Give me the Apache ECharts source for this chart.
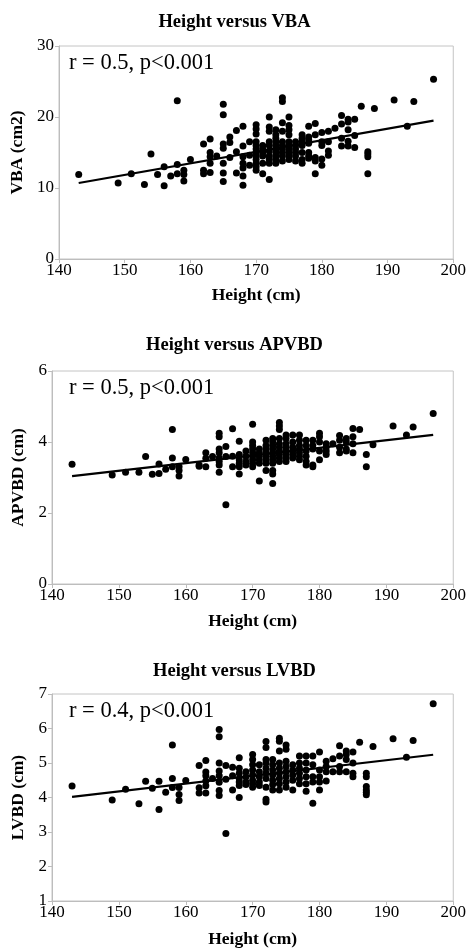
<!DOCTYPE html>
<html>
<head>
<meta charset="utf-8">
<script src="https://cdn.jsdelivr.net/npm/echarts@6/dist/echarts.min.js"></script>
<style>html,body{margin:0;padding:0;background:#fff}#c{width:469px;height:949px}</style>
</head>
<body>
<div id="c"></div>
<script>
// ---- Panel 1: Height versus VBA ----
const vbaHeights = [143,149,151,153,154,155,156,157,158,159,160,162,163,164,165,166,167,168,169,170,171,172,173,174,175,176,177,178,179,180,181,182,183,184,185,186,187,188,191,193,194,197];
const vbaValues = [
 [11.9],[10.7],[12.0],[10.5],[14.8],[11.9],[10.3,13.0],[11.7],[22.3,13.3,12.0],[12.5,11.9,11.0],[14.0],
 [16.2,12.5,12.0],[16.9,15.0,14.4,13.5,12.2],[14.5],[21.8,20.3,16.2,15.6,13.5,12.1,10.9],[17.2,16.4,14.3],
 [18.1,15.1,12.1],[18.7,15.9,14.4,13.5,12.8,11.7,10.4],[16.5,14.6,13.2],
 [18.9,18.3,17.6,16.5,16.0,15.5,15.0,14.5,14.0,13.5,13.0,12.5],[16.0,15.5,15.0,14.5,13.5,12.0],
 [20.0,18.6,18.0,16.5,16.0,15.2,14.5,14.0,13.5,11.2],[18.2,17.5,17.0,16.5,16.0,15.5,15.0,14.5,14.0,13.5],
 [22.7,22.2,19.2,18.0,16.5,16.0,15.5,15.0,14.5,13.8],[20.0,18.8,18.2,17.5,16.5,16.0,15.5,15.0,14.5,14.0],
 [16.5,16.0,15.5,15.0,14.5,13.8],[17.5,17.0,16.5,16.0,15.0,14.0,13.5],[18.7,17.2,16.8,16.3,15.0,14.5,14.2],
 [19.1,17.5,14.3,13.8,12.0],[17.8,16.5,16.0,14.1,13.2],[18.0,16.5,15.2,14.6],[18.4],[20.2,19.0,17.0,15.9],
 [19.7,19.3,18.2,16.6,15.9],[19.7,17.4,15.7],[21.5],[15.1,14.8,14.4,12.0],[21.2],[22.4],[18.7],[22.2],[25.3]
];
const vbaTrendX = [143,197];
const vbaTrendY = [10.7,19.5];
const vbaTicks = {min:0,max:30,interval:10};

// ---- Panel 2: Height versus APVBD ----
const apHeights = [143,149,151,153,154,155,156,157,158,159,160,162,163,164,165,166,167,168,169,170,171,172,173,174,175,176,177,178,179,180,181,182,183,184,185,186,187,188,191,193,194,197];
const apValues = [
 [3.37],[3.07],[3.15],[3.15],[3.59],[3.09],[3.38,3.11],[3.23],[4.35,3.55,3.3],[3.3,3.2,3.04],[3.51],
 [3.35,3.32],[3.7,3.54,3.3],[3.59],[4.25,4.15,3.8,3.7,3.55,3.45,3.35,3.15],[3.87,3.59,2.23],[4.37,3.6,3.3],
 [4.02,3.65,3.5,3.4,3.3,3.1],[3.75,3.6,3.45,3.35],[4.5,4.0,3.9,3.8,3.7,3.6,3.5,3.4,3.3],
 [3.8,3.7,3.6,3.5,3.4,2.9],[4.05,3.9,3.8,3.7,3.6,3.5,3.4,3.2],[4.1,4.0,3.9,3.8,3.7,3.6,3.5,3.4,3.2,3.1,2.83],
 [4.55,4.45,4.35,4.1,3.95,3.85,3.75,3.65,3.55,3.45],[4.2,4.1,3.95,3.85,3.75,3.65,3.55,3.45],
 [4.2,4.0,3.85,3.75,3.65,3.55],[4.2,4.05,3.9,3.8,3.7,3.6,3.5],[4.05,3.9,3.75,3.6,3.45,3.35],
 [4.05,3.9,3.8,3.35,3.3],[4.25,4.15,4.0,3.75,3.5],[3.95,3.85,3.75,3.65],[3.95],[4.18,4.05,3.85,3.7],
 [4.1,4.0,3.8,3.75],[4.38,4.15,3.95,3.7],[4.35],[3.65,3.3],[3.92],[4.45],[4.2],[4.42],[4.8]
];
const apTrendX = [143,197];
const apTrendY = [3.04,4.2];
const apTicks = {min:0,max:6,interval:2};

// ---- Panel 3: Height versus LVBD ----
const lvHeights = [143,149,151,153,154,155,156,157,158,159,160,162,163,164,165,166,167,168,169,170,171,172,173,174,175,176,177,178,179,180,181,182,183,184,185,186,187,188,191,193,194,197];
const lvValues = [
 [4.33],[3.93],[4.24],[3.82],[4.47],[4.27],[4.47,3.65],[4.15],[5.52,4.55,4.29],[4.29,4.09,3.91],[4.49],
 [4.93,4.28,4.13],[5.07,4.74,4.63,4.48,4.34,4.13],[4.55],[5.97,5.76,5.0,4.77,4.63,4.44,4.2,4.06],
 [4.93,4.53,2.96],[4.88,4.63,4.22],[5.15,4.85,4.7,4.55,4.45,4.35,4.0],[4.75,4.6,4.45,4.38],
 [5.25,5.1,4.95,4.8,4.65,4.5,4.4,4.3],[4.95,4.75,4.6,4.45,4.35],
 [5.62,5.45,5.1,5.0,4.85,4.7,4.55,4.3,3.95,3.87],[5.1,4.95,4.8,4.65,4.5,4.38,4.22],
 [5.72,5.63,5.35,5.0,4.85,4.7,4.55,4.4,4.22],[5.52,5.4,5.05,4.9,4.75,4.6,4.45,4.3],
 [4.95,4.8,4.65,4.5,4.22],[5.2,5.0,4.85,4.7,4.55,4.4],[5.2,5.0,4.8,4.6,4.4,4.18],
 [5.2,4.95,4.6,4.45,3.83],[5.32,4.8,4.6,4.45,4.22],[5.05,4.9,4.75,4.48],[5.12,4.75],[5.5,5.2,4.9,4.75],
 [5.35,5.25,5.1,4.75],[5.32,5.0,4.7,4.6],[5.6],[4.7,4.6,4.32,4.22,4.15,4.08],[5.48],[5.7],[5.17],[5.65],[6.72]
];
const lvTrendX = [143,197];
const lvTrendY = [4.02,5.24];
const lvTicks = {min:1,max:7,interval:1};

const titles = ['Height versus VBA','Height versus APVBD','Height versus LVBD'];
const yNames = ['VBA (cm2)','APVBD (cm)','LVBD (cm)'];
const xName = 'Height (cm)';
const annotations = ['r = 0.5, p<0.001','r = 0.5, p<0.001','r = 0.4, p<0.001'];
const xTicks = {min:140,max:200,interval:10};

function pairs(hs, vs){ const out=[]; hs.forEach((h,i)=>vs[i].forEach(v=>out.push([h,v]))); return out; }
function line(xs, ys){ return xs.map((x,i)=>[x,ys[i]]); }

const FONT = '"Liberation Serif","Times New Roman",serif';
const panels = [
  {h:vbaHeights,v:vbaValues,tx:vbaTrendX,ty:vbaTrendY,yt:vbaTicks,grid:{left:59,top:46,width:398,height:213},titleTop:8,annTop:52,yGap:30,xGap:27},
  {h:apHeights,v:apValues,tx:apTrendX,ty:apTrendY,yt:apTicks,grid:{left:52,top:371,width:405,height:213},titleTop:331,annTop:377,yGap:23,xGap:28},
  {h:lvHeights,v:lvValues,tx:lvTrendX,ty:lvTrendY,yt:lvTicks,grid:{left:52,top:694,width:405,height:213},titleTop:657,annTop:700,yGap:23,xGap:29}
];

const chart = echarts.init(document.getElementById('c'), null, {renderer:'canvas'});
const option = {
  backgroundColor:'#fff',
  animation:false,
  title: panels.map((p,i)=>({text:titles[i],left:'center',top:p.titleTop,
     textStyle:{fontFamily:FONT,fontWeight:'bold',fontSize:18.5,color:'#000'}})),
  grid: panels.map(p=>Object.assign({show:true,borderColor:'#c4c4c4',borderWidth:1,containLabel:false},p.grid)),
  xAxis: panels.map((p,i)=>({type:'value',gridIndex:i,min:xTicks.min,max:xTicks.max,interval:xTicks.interval,
     name:xName,nameLocation:'middle',nameGap:p.xGap,
     nameTextStyle:{fontFamily:FONT,fontWeight:'bold',fontSize:17.5,color:'#000'},
     axisLine:{show:true,lineStyle:{color:'#bdbdbd'}},axisTick:{show:true,length:4,lineStyle:{color:'#bdbdbd'}},
     axisLabel:{fontFamily:FONT,fontSize:17,color:'#000',margin:3},splitLine:{show:false}})),
  yAxis: panels.map((p,i)=>({type:'value',gridIndex:i,min:p.yt.min,max:p.yt.max,interval:p.yt.interval,
     name:yNames[i],nameLocation:'middle',nameGap:p.yGap,
     nameTextStyle:{fontFamily:FONT,fontWeight:'bold',fontSize:17.5,color:'#000'},
     axisLine:{show:true,lineStyle:{color:'#bdbdbd'}},axisTick:{show:true,length:4,lineStyle:{color:'#bdbdbd'}},
     axisLabel:{fontFamily:FONT,fontSize:17,color:'#000',margin:5},splitLine:{show:false}})),
  series: [].concat(...panels.map((p,i)=>[
     {type:'scatter',xAxisIndex:i,yAxisIndex:i,data:pairs(p.h,p.v),symbol:'circle',symbolSize:7,
      itemStyle:{color:'#000',opacity:1},silent:true},
     {type:'line',xAxisIndex:i,yAxisIndex:i,data:line(p.tx,p.ty),symbol:'none',
      lineStyle:{color:'#000',width:2.2},silent:true,z:3}
  ])),
  graphic: panels.map((p,i)=>({type:'text',left:69,top:p.annTop,
     style:{text:annotations[i],fontFamily:FONT,fontSize:22.5,fill:'#000'}}))
};
chart.setOption(option);
</script>
</body>
</html>
